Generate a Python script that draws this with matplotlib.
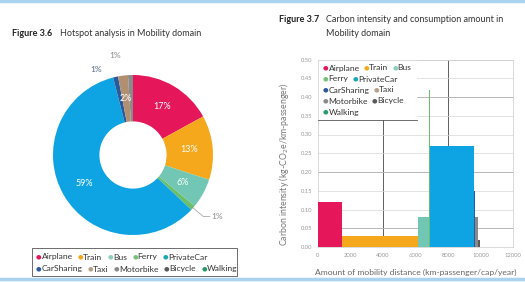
import numpy as np
import matplotlib
matplotlib.use('Agg')
import matplotlib.pyplot as plt
from matplotlib.lines import Line2D
from matplotlib.patches import Rectangle

plt.rcParams['font.family'] = ['Lato', 'DejaVu Sans']

### Data
modes = ['Airplane', 'Train', 'Bus', 'Ferry', 'PrivateCar',
         'CarSharing', 'Taxi', 'Motorbike', 'Bicycle', 'Walking']
colors = ['#e5175a', '#f6a81c', '#72c7b4', '#6cbf6a', '#0ea3e3',
          '#2a5a9c', '#b09070', '#8a8a8a', '#5a5a5a', '#2a9a6a']
legend_colors = ['#e5175a', '#f6a81c', '#8fcfbf', '#78c07a', '#1aa8b4',
                 '#2a5a9c', '#b8a088', '#8a8a8a', '#5a5a5a', '#2a9a6a']

# hotspot share (%)
share = [17, 13, 6, 1, 59, 1, 2, 1, 0, 0]
share_lbl = ['17%', '13%', '6%', '1%', '59%', '1%', '2%', '1%', '', '']

# mobility distance (km-passenger/cap/year) and carbon intensity (kg-CO2e/km-passenger)
distance = [1480, 4670, 680, 60, 2710, 40, 40, 180, 100, 60]
intensity = [0.12, 0.03, 0.08, 0.42, 0.27, 0.15, 0.43, 0.08, 0.02, 0.0]

xticks = [0, 2000, 4000, 6000, 8000, 10000, 12000]
yticks = [0.00, 0.05, 0.10, 0.15, 0.20, 0.25, 0.30, 0.35, 0.40, 0.45, 0.50]

W, H = 525, 282

### Figure
fig = plt.figure(figsize=(5.25, 2.82), dpi=100, facecolor='white')
rend = fig.canvas.get_renderer()

# blue page borders
fig.add_artist(Line2D([0, 1], [0.995, 0.995], color='#a9d3ef', lw=2.5))
fig.add_artist(Line2D([0, 1], [0.01, 0.01], color='#a9d3ef', lw=2.5))

# titles
tsz = 6.5
fig.text(12/W, 1-33/H, 'Figure 3.6', fontsize=tsz, fontweight='bold', color='#222222', va='center')
fig.text(60/W, 1-33/H, 'Hotspot analysis in Mobility domain', fontsize=tsz, color='#333333', va='center')
fig.text(279/W, 1-20/H, 'Figure 3.7', fontsize=tsz, fontweight='bold', color='#222222', va='center')
fig.text(326/W, 1-20/H, 'Carbon intensity and consumption amount in', fontsize=tsz, color='#333333', va='center')
fig.text(326/W, 1-33/H, 'Mobility domain', fontsize=tsz, color='#333333', va='center')


# flowing legend rows made of dot + label
def legend_rows(rows, x0, ys, fsize, dsize, gap):
    for row, yy in zip(rows, ys):
        xx = x0
        for i in row:
            fig.text(xx/W, 1-yy/H, '\u25cf', color=legend_colors[i], fontsize=dsize,
                     va='center', ha='left', family='DejaVu Sans')
            t = fig.text((xx+5.5)/W, 1-yy/H, modes[i], fontsize=fsize, color='#333333', va='center')
            xx = t.get_window_extent(renderer=rend).x1 + gap


## Pie (donut)
cx, cy, r = 133, 155, 80
axp = fig.add_axes([(cx-r)/W, 1-(cy+r)/H, 2*r/W, 2*r/H])
wedges, _ = axp.pie(share, colors=colors, startangle=90, counterclock=False,
                    wedgeprops=dict(width=0.58, linewidth=0))
axp.set_aspect('auto')
for w, lbl, v in zip(wedges, share_lbl, share):
    if v >= 2:
        ang = np.deg2rad((w.theta1 + w.theta2) / 2)
        rr = 0.71
        axp.text(rr*np.cos(ang), rr*np.sin(ang), lbl, ha='center', va='center',
                 fontsize=6.5, color='white')
# small slice labels
for w, v, m, lbl in zip(wedges, share, modes, share_lbl):
    if v != 1:
        continue
    ang = np.deg2rad((w.theta1 + w.theta2) / 2)
    x0, y0 = np.cos(ang), np.sin(ang)
    if m == 'Ferry':
        axp.plot([x0*0.98, 0.88, 0.96], [y0*0.98, -0.77, -0.77], color='#999999', lw=0.5)
        axp.text(0.98, -0.77, lbl, fontsize=6, color='#888888', va='center')
    elif m == 'Motorbike':
        axp.plot([x0, x0], [y0, 1.17], color='#999999', lw=0.5)
        axp.text(-0.22, 1.24, lbl, fontsize=6, color='#888888', ha='center', va='center')
    elif m == 'CarSharing':
        axp.text(-0.46, 1.07, lbl, fontsize=6, color='#556688', ha='center', va='center')
axp.set_xlim(-1, 1)
axp.set_ylim(-1, 1)
axp.axis('off')

fig.add_artist(Rectangle((32/W, 1-276/H), 205/W, 28/H, transform=fig.transFigure,
                         facecolor='none', edgecolor='#555555', lw=0.6))
legend_rows([[0, 1, 2, 3, 4], [5, 6, 7, 8, 9]], 36, [257, 269], 6.1, 4.6, 5.2)

## Variable width bar chart
axb = fig.add_axes([318/W, 1-247/H, 195/W, 187.5/H])
left = np.concatenate([[0], np.cumsum(distance)[:-1]])
axb.bar(left, intensity, width=distance, align='edge', color=colors, linewidth=0, zorder=3)
axb.set_xlim(0, 12000)
axb.set_ylim(0, 0.5)
axb.set_xticks(xticks)
axb.set_yticks(yticks)
axb.set_xticklabels([str(t) for t in xticks])
axb.set_yticklabels(['%.2f' % t for t in yticks])
axb.tick_params(labelsize=4.2, colors='#999999', length=0, pad=4)
axb.yaxis.grid(True, color='#d8d8d8', lw=0.5)
for y in [0.05, 0.2, 0.4]:
    axb.axhline(y, color='#555555', lw=0.6, zorder=1)
for x in [4000, 8000, 12000]:
    axb.axvline(x, color='#444444', lw=0.6, zorder=1)
for s in axb.spines.values():
    s.set_color('#cccccc')
    s.set_linewidth(0.5)
axb.set_ylabel('Carbon intensity (kg-CO$_2$e/km-passenger)', fontsize=6.3, color='#777777')
axb.yaxis.set_label_coords(-27/195, 0.44)
axb.set_xlabel('Amount of mobility distance (km-passenger/cap/year)', fontsize=6.1, color='#666666', labelpad=8)

# white legend area inside the chart
axb.add_patch(Rectangle((0, 0.339), 6090, 0.161, facecolor='white', edgecolor='none', zorder=2))
fig.add_artist(Line2D([318/W, 417/W], [1-120/H, 1-120/H], color='#555555', lw=0.6))
legend_rows([[0, 1, 2], [3, 4], [5, 6], [7, 8], [9]], 323, [68, 79, 90, 101, 112], 6.1, 4.6, 4)

fig.savefig('out.png', dpi=100, facecolor='white')
